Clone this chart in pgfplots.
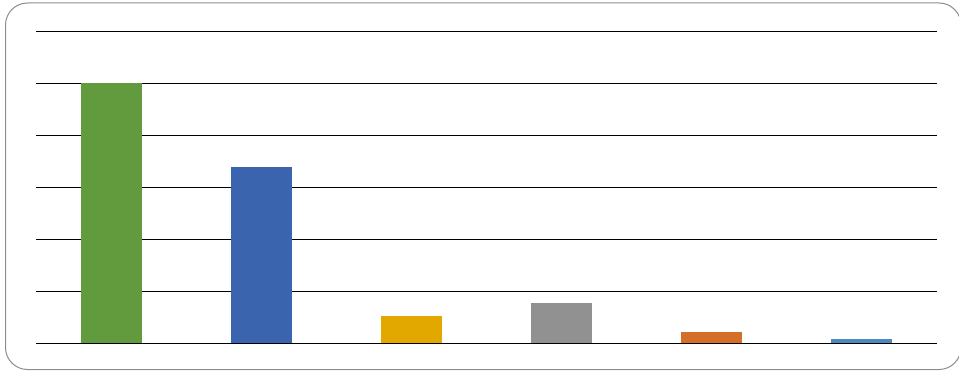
\documentclass[border=0pt]{standalone}
\usepackage{pgfplots}
\pgfplotsset{compat=1.18}
\definecolor{cgreen}{HTML}{629A3E}
\definecolor{cblue}{HTML}{3A64AE}
\definecolor{cgold}{HTML}{E2A800}
\definecolor{cgray}{HTML}{919191}
\definecolor{corange}{HTML}{D46F2A}
\definecolor{clblue}{HTML}{4E88BE}
\begin{document}
\begin{tikzpicture}
\useasboundingbox (0pt,0pt) rectangle (959pt,370pt);
\begin{scope}
\clip (0pt,0pt) rectangle (959pt,370pt);
\draw[black!45, line width=1pt, rounded corners=22pt] (5.5pt,367pt) rectangle (961pt,0.5pt);
\end{scope}
\begin{axis}[
  at={(36pt,27pt)}, anchor=south west,
  scale only axis, width=901pt, height=312pt,
  xmin=-0.5, xmax=5.5, ymin=0, ymax=6,
  axis lines=none,
  ytick=\empty, xtick=\empty,
  ybar, bar width=61pt, bar shift=0pt,
  clip=false,
]
\draw[black, line width=0.9pt] (axis cs:-0.5,0) -- (axis cs:5.5,0);
\foreach \yy in {1,...,6} {\edef\tmp{\noexpand\draw[black, line width=0.9pt] (axis cs:-0.5,\yy) -- (axis cs:5.5,\yy);}\tmp}
\addplot[fill=cgreen, draw=none] coordinates {(0,5.0)};
\addplot[fill=cblue, draw=none] coordinates {(1,3.385)};
\addplot[fill=cgold, draw=none] coordinates {(2,0.52)};
\addplot[fill=cgray, draw=none] coordinates {(3,0.77)};
\addplot[fill=corange, draw=none] coordinates {(4,0.21)};
\addplot[fill=clblue, draw=none] coordinates {(5,0.077)};
\end{axis}
\end{tikzpicture}
\end{document}
